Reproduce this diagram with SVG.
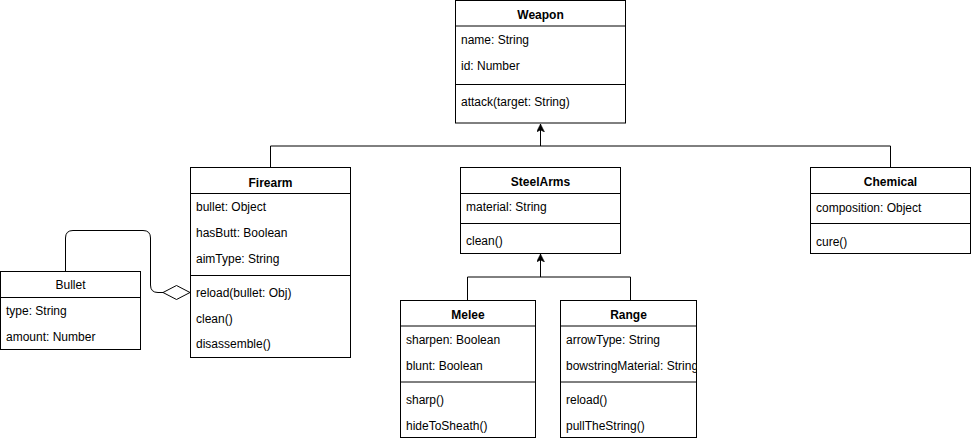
<svg xmlns="http://www.w3.org/2000/svg" width="971" height="442" viewBox="0 0 971 442">
<style>
.box{fill:#fff;stroke:#000;stroke-width:1}
.sep{stroke:#000;stroke-width:1}
text{font-family:"Liberation Sans",Arial,sans-serif;font-size:12px;fill:#000}
.t{font-weight:bold;text-anchor:middle}
.tn{text-anchor:middle}
.ln{fill:none;stroke:#000;stroke-width:1}
</style>
<defs>
<marker id="arr" markerWidth="10" markerHeight="10" refX="8" refY="4" orient="auto" markerUnits="userSpaceOnUse">
<path d="M0,0 L8,4 L0,8 L2,4 Z" fill="#000" stroke="#000" stroke-width="0.5"/>
</marker>
<clipPath id="clipRange"><rect x="561" y="300" width="135" height="138"/></clipPath>
</defs>
<rect width="971" height="442" fill="#fff"/>
<g id="connectors">
<path class="ln" d="M540.5,146 L540.5,124" marker-end="url(#arr)"/>
<path class="ln" d="M270.5,167 L270.5,146 L890.5,146 L890.5,167"/>
<path class="ln" d="M540.5,277 L540.5,254" marker-end="url(#arr)"/>
<path class="ln" d="M467.5,300 L467.5,277 L630.5,277 L630.5,300"/>
<path class="ln" d="M65.5,271 L65.5,238 Q65.5,230.5 73,230.5 L143,230.5 Q150.5,230.5 150.5,238 L150.5,285 Q150.5,292.5 158,292.5 L163,292.5"/>
<path d="M163,292.5 L176.5,285.5 L190,292.5 L176.5,299.5 Z" fill="#fff" stroke="#000" stroke-width="1"/>
</g>
<g id="weapon">
<rect class="box" x="455.5" y="0.5" width="170" height="122.5"/>
<line class="sep" x1="455.5" y1="26" x2="625.5" y2="26"/>
<line class="sep" x1="455.5" y1="84.5" x2="625.5" y2="84.5"/>
<text class="t" x="540.5" y="19">Weapon</text>
<text x="461" y="44">name: String</text>
<text x="461" y="70">id: Number</text>
<text x="461" y="106">attack(target: String)</text>
</g>
<g id="firearm">
<rect class="box" x="190.5" y="167.5" width="160" height="190"/>
<line class="sep" x1="190.5" y1="193.5" x2="350.5" y2="193.5"/>
<line class="sep" x1="190.5" y1="275.5" x2="350.5" y2="275.5"/>
<text class="t" x="270.5" y="187">Firearm</text>
<text x="196" y="211">bullet: Object</text>
<text x="196" y="237">hasButt: Boolean</text>
<text x="196" y="263">aimType: String</text>
<text x="196" y="297">reload(bullet: Obj)</text>
<text x="196" y="323">clean()</text>
<text x="196" y="348">disassemble()</text>
</g>
<g id="bullet">
<rect class="box" x="0.5" y="271.5" width="140" height="78"/>
<line class="sep" x1="0.5" y1="297.5" x2="140.5" y2="297.5"/>
<text class="tn" x="70.5" y="289">Bullet</text>
<text x="6" y="315">type: String</text>
<text x="6" y="341">amount: Number</text>
</g>
<g id="steelarms">
<rect class="box" x="460.5" y="167.5" width="160" height="86"/>
<line class="sep" x1="460.5" y1="193.5" x2="620.5" y2="193.5"/>
<line class="sep" x1="460.5" y1="223.5" x2="620.5" y2="223.5"/>
<text class="t" x="540.5" y="186">SteelArms</text>
<text x="466" y="211">material: String</text>
<text x="466" y="245">clean()</text>
</g>
<g id="chemical">
<rect class="box" x="810.5" y="167.5" width="160" height="86"/>
<line class="sep" x1="810.5" y1="193.5" x2="970.5" y2="193.5"/>
<line class="sep" x1="810.5" y1="223.5" x2="970.5" y2="223.5"/>
<text class="t" x="890.5" y="186">Chemical</text>
<text x="816" y="212">composition: Object</text>
<text x="816" y="246">cure()</text>
</g>
<g id="melee">
<rect class="box" x="400.5" y="300.5" width="135" height="137"/>
<line class="sep" x1="400.5" y1="326" x2="535.5" y2="326"/>
<line class="sep" x1="400.5" y1="382" x2="535.5" y2="382"/>
<text class="t" x="468" y="319">Melee</text>
<text x="406" y="344">sharpen: Boolean</text>
<text x="406" y="370">blunt: Boolean</text>
<text x="406" y="404">sharp()</text>
<text x="406" y="430">hideToSheath()</text>
</g>
<g id="range">
<rect class="box" x="560.5" y="300.5" width="136" height="137"/>
<line class="sep" x1="560.5" y1="326" x2="696.5" y2="326"/>
<line class="sep" x1="560.5" y1="382" x2="696.5" y2="382"/>
<text class="t" x="628.5" y="319">Range</text>
<g clip-path="url(#clipRange)">
<text x="566" y="344">arrowType: String</text>
<text x="566" y="370">bowstringMaterial: String</text>
</g>
<text x="566" y="404">reload()</text>
<text x="566" y="430">pullTheString()</text>
</g>
</svg>
